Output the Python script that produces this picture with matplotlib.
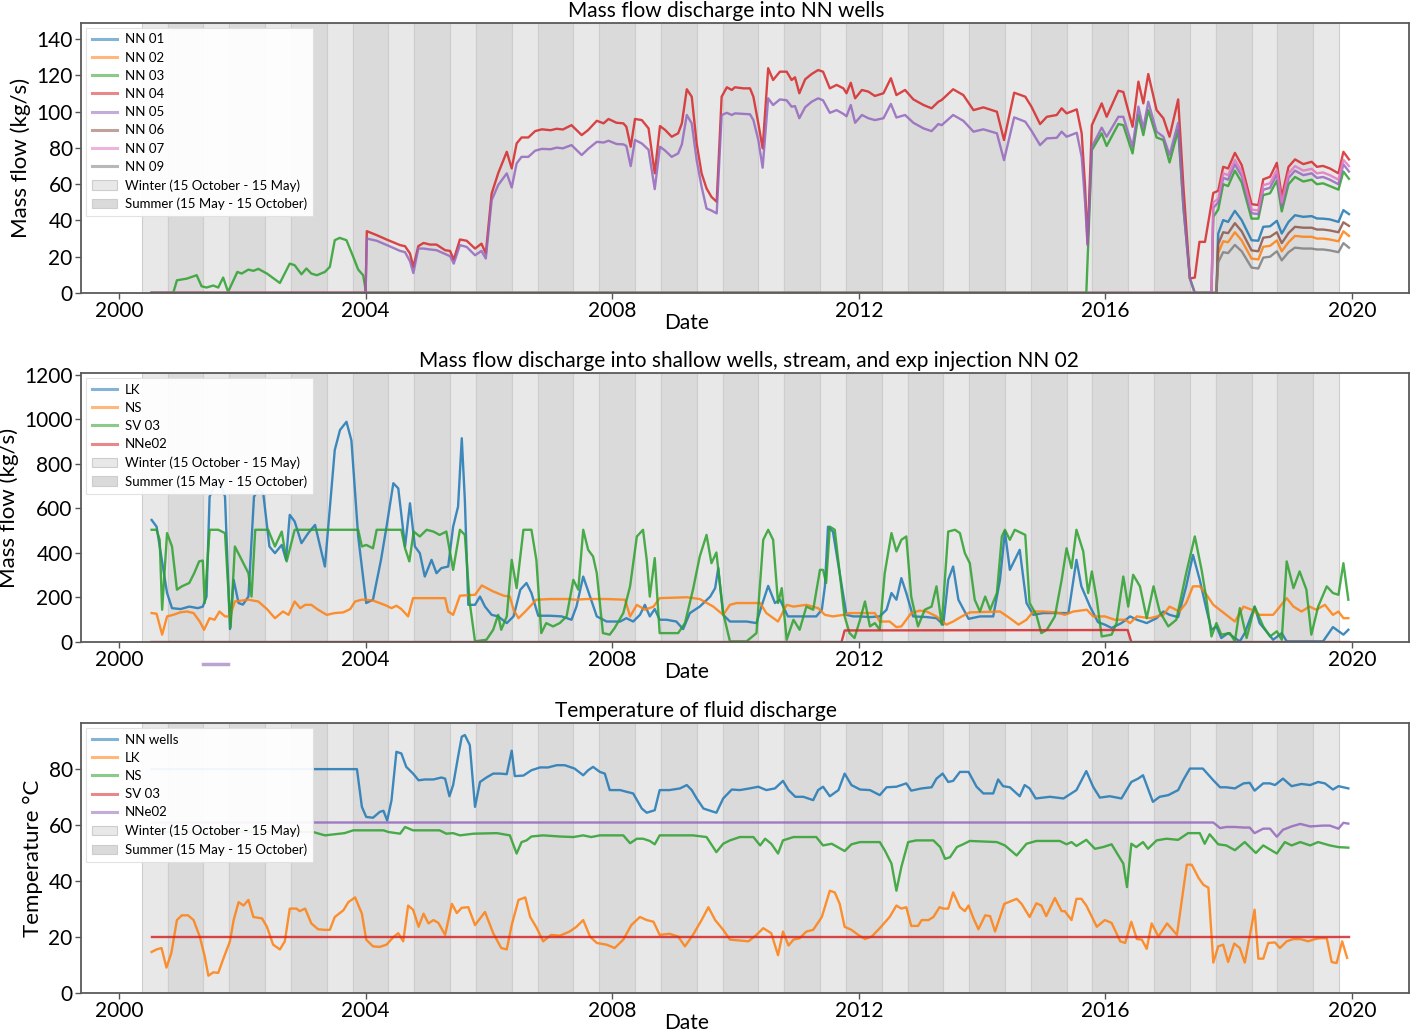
import numpy as np
import matplotlib.pyplot as plt
from matplotlib.lines import Line2D

plt.rcParams['font.family'] = ['Lato', 'DejaVu Sans']

# ------------------------------------------------------------------
# Dados (datas em anos decimais)
# ------------------------------------------------------------------

# --- Painel 1: vazao nos pocos NN (kg/s) ---
# trecho final comum (fim de 2017 ate fim de 2019)
x_final = [2017.83, 2017.91, 2017.99, 2018.10, 2018.21, 2018.37, 2018.48, 2018.56,
           2018.67, 2018.78, 2018.86, 2018.97, 2019.075, 2019.21, 2019.345, 2019.43,
           2019.53, 2019.64, 2019.78, 2019.86, 2019.95]

nn04_x = [2000.53, 2004.0, 2004.02, 2004.18, 2004.34, 2004.56, 2004.64, 2004.72, 2004.775,
          2004.855, 2004.94, 2005.045, 2005.15, 2005.29, 2005.37, 2005.43, 2005.53, 2005.64,
          2005.775, 2005.88, 2005.95, 2006.045, 2006.15, 2006.29, 2006.37, 2006.45, 2006.53,
          2006.64, 2006.75, 2006.86, 2007.0, 2007.1, 2007.2, 2007.34, 2007.505, 2007.61,
          2007.75, 2007.86, 2007.94, 2008.07, 2008.18, 2008.23, 2008.30, 2008.37, 2008.48,
          2008.59, 2008.69, 2008.775, 2008.86, 2008.965, 2009.07, 2009.13, 2009.21, 2009.29,
          2009.37, 2009.45, 2009.53, 2009.61, 2009.695, 2009.775, 2009.86, 2009.94, 2009.99,
          2010.13, 2010.235, 2010.29, 2010.37, 2010.44, 2010.53, 2010.61, 2010.72, 2010.83,
          2010.91, 2010.965, 2011.035, 2011.13, 2011.235, 2011.34, 2011.42, 2011.53, 2011.64,
          2011.75, 2011.80, 2011.87, 2011.94, 2012.05, 2012.155, 2012.26, 2012.40, 2012.52,
          2012.61, 2012.75, 2012.885, 2013.05, 2013.18, 2013.29, 2013.345, 2013.53, 2013.695,
          2013.86, 2014.02, 2014.24, 2014.355, 2014.52, 2014.70, 2014.80, 2014.94, 2015.05,
          2015.21, 2015.29, 2015.37, 2015.535, 2015.615, 2015.67, 2015.71, 2015.78, 2015.94,
          2016.02, 2016.21, 2016.29, 2016.44, 2016.535, 2016.615, 2016.695, 2016.83, 2016.94,
          2017.04, 2017.18, 2017.265, 2017.37, 2017.45, 2017.525, 2017.615, 2017.75] + x_final
nn04_y = [0, 0, 34.1, 31.9, 29.5, 26.4, 25.8, 21.8, 14.4,
          25.8, 27.6, 26.7, 26.7, 23.6, 23.2, 18.4, 29.5, 28.8,
          24.5, 27.2, 21.8, 54.9, 66.0, 77.9, 68.7, 82.5, 85.8,
          85.8, 89.3, 90.3, 89.8, 90.6, 90.2, 92.6, 87.1, 89.9,
          95.0, 93.6, 96.0, 93.9, 93.6, 91.7, 80.7, 96.0, 95.4,
          90.8, 66.0, 92.1, 89.9, 86.2, 88.1, 93.6, 112.4, 108.3,
          82.5, 66.0, 57.7, 53.0, 50.3, 108.3, 113.5, 112.0, 113.5,
          112.9, 112.9, 108.3, 93.6, 79.8, 124.0, 117.5, 122.1, 122.1,
          117.5, 119.0, 110.2, 117.9, 120.8, 123.0, 122.1, 112.9, 114.8,
          112.9, 110.2, 116.0, 107.4, 112.0, 111.1, 108.7, 110.2, 118.5,
          109.2, 112.0, 106.8, 103.7, 101.9, 105.5, 106.5, 112.4, 109.2,
          100.9, 102.4, 100.0, 84.4, 110.5, 108.3, 102.8, 93.2, 97.2,
          98.2, 101.9, 99.1, 101.3, 88.1, 58.6, 27.3, 92.6, 104.6,
          97.2, 111.6, 110.9, 91.7, 116.6, 104.6, 120.8, 100.9, 96.4,
          86.2, 106.8, 58.6, 8.0, 8.5, 28.2, 28.2, 55.2,
          56.4, 69.6, 68.7, 77.3, 70.6, 49.0, 48.5, 62.7, 64.1, 71.8, 53.0,
          69.6, 73.7, 71.1, 72.4, 69.6, 70.1, 68.7, 66.0, 77.9, 73.7]

nn05_x = [2000.53, 2004.0, 2004.02, 2004.18, 2004.34, 2004.56, 2004.64, 2004.72, 2004.775,
          2004.855, 2004.94, 2005.045, 2005.15, 2005.29, 2005.37, 2005.43, 2005.53, 2005.64,
          2005.775, 2005.88, 2005.95, 2006.045, 2006.15, 2006.29, 2006.37, 2006.45, 2006.53,
          2006.64, 2006.75, 2006.86, 2007.0, 2007.1, 2007.2, 2007.34, 2007.505, 2007.61,
          2007.75, 2007.86, 2007.94, 2008.07, 2008.18, 2008.23, 2008.30, 2008.37, 2008.48,
          2008.59, 2008.69, 2008.775, 2008.86, 2008.965, 2009.07, 2009.13, 2009.21, 2009.29,
          2009.37, 2009.45, 2009.53, 2009.61, 2009.695, 2009.775, 2009.86, 2009.94, 2009.99,
          2010.13, 2010.235, 2010.29, 2010.37, 2010.44, 2010.53, 2010.61, 2010.72, 2010.83,
          2010.91, 2010.965, 2011.035, 2011.13, 2011.235, 2011.34, 2011.42, 2011.53, 2011.64,
          2011.75, 2011.80, 2011.87, 2011.94, 2012.05, 2012.155, 2012.26, 2012.40, 2012.52,
          2012.61, 2012.75, 2012.885, 2013.05, 2013.18, 2013.29, 2013.345, 2013.53, 2013.695,
          2013.86, 2014.02, 2014.24, 2014.355, 2014.52, 2014.70, 2014.80, 2014.94, 2015.05,
          2015.21, 2015.29, 2015.37, 2015.535, 2015.615, 2015.67, 2015.71, 2015.78, 2015.94,
          2016.02, 2016.21, 2016.29, 2016.44, 2016.535, 2016.615, 2016.695, 2016.83, 2016.94,
          2017.04, 2017.18, 2017.265, 2017.37, 2017.45, 2017.72, 2017.75] + x_final
nn05_y = [0, 0, 30.0, 28.8, 26.5, 23.2, 22.5, 17.5, 11.0,
          24.5, 24.5, 24.0, 23.6, 21.5, 20.3, 16.2, 26.4, 25.4,
          20.8, 23.2, 19.0, 51.2, 59.5, 66.0, 58.2, 71.5, 75.1,
          75.1, 78.5, 79.5, 79.3, 80.2, 79.8, 81.6, 76.1, 79.5,
          83.4, 83.0, 84.0, 82.2, 82.0, 81.1, 70.0, 84.4, 82.5,
          79.0, 57.3, 80.7, 78.5, 75.1, 77.0, 82.0, 98.2, 93.6,
          73.3, 58.6, 46.6, 45.5, 43.9, 98.2, 99.4, 98.2, 99.1,
          98.8, 98.6, 95.4, 84.4, 69.1, 107.4, 103.7, 106.8, 106.3,
          102.8, 103.1, 96.4, 102.5, 105.5, 107.4, 106.3, 99.4, 100.9,
          98.8, 97.5, 103.7, 93.9, 98.2, 96.4, 95.4, 96.4, 104.3,
          96.8, 98.2, 93.9, 90.8, 89.3, 93.2, 92.6, 98.2, 95.0,
          89.0, 90.3, 88.1, 73.3, 96.9, 94.5, 89.5, 81.6, 85.3,
          85.6, 89.0, 86.2, 88.4, 75.1, 50.0, 26.4, 80.7, 91.2,
          86.2, 97.2, 97.2, 80.7, 102.8, 90.8, 105.5, 89.0, 86.2,
          76.1, 93.9, 47.5, 8.0, 0, 0, 47.0,
          50, 63.5, 62.5, 71, 64.5, 44, 43.5, 57, 58, 65.5, 48,
          63.5, 67.5, 65, 66, 63.5, 64, 62.5, 60, 71, 67]

nn03_x = [2000.53, 2000.88, 2000.94, 2001.10, 2001.26, 2001.34, 2001.42, 2001.53, 2001.61,
          2001.69, 2001.77, 2001.92, 2001.99, 2002.10, 2002.18, 2002.26, 2002.40, 2002.61,
          2002.77, 2002.85, 2002.96, 2003.04, 2003.12, 2003.21, 2003.34, 2003.42, 2003.50,
          2003.58, 2003.69, 2003.80, 2003.88, 2003.96, 2004.01, 2015.69, 2015.78, 2015.94,
          2016.02, 2016.21, 2016.29, 2016.44, 2016.535, 2016.615, 2016.695, 2016.83, 2016.94,
          2017.04, 2017.18, 2017.265, 2017.37, 2017.45, 2017.72, 2017.75] + x_final
nn03_y = [0, 0, 7.0, 7.9, 9.8, 3.7, 3.0, 4.1, 3.0,
          8.5, 0.6, 11.6, 10.7, 12.9, 12.2, 13.3, 10.7, 5.5,
          16.2, 15.3, 10.3, 13.5, 10.7, 9.8, 11.6, 14.4, 29.1,
          30.4, 29.1, 19.9, 12.9, 9.8, 0, 0, 78.8, 88.1,
          81.1, 93.2, 92.6, 77.0, 98.2, 87.1, 100.9, 85.8, 84.4,
          72.0, 89.9, 47.5, 8.0, 0, 0, 42.0,
          46, 60, 59, 67.5, 61, 41, 41, 54, 55, 62, 45,
          60, 64, 61.5, 62.5, 60, 60.5, 59, 57, 67, 63]

nn07_x = [2000.53, 2017.72, 2017.75] + x_final
nn07_y = [0, 0, 50.0,
          52, 66, 65, 73.5, 67, 46, 45.5, 59.5, 60.5, 68, 50,
          66, 70, 67.5, 68.5, 66, 66.5, 65, 62.5, 73.5, 70]

# pocos que so aparecem no fim (zero antes)
inicio_zero_x = [2000.53, 2017.80]
nn01_y = [0, 0, 32.8, 40.2, 39.2, 45.3, 40.2, 29.1, 28.8, 36.5, 36.8, 39.8, 32.8,
          39.2, 42.9, 42.0, 42.4, 41.1, 41.0, 40.6, 39.2, 45.7, 43.5]
nn02_y = [0, 0, 22, 28.5, 28, 33.5, 29, 19, 18.5, 25.5, 26, 29, 23,
          28, 31.5, 31, 31, 30, 30, 29.5, 28.5, 34, 31.5]
nn06_y = [0, 0, 27, 33.5, 33, 38.5, 34, 23.5, 23, 30.5, 31, 33.5, 27.5,
          33, 36.5, 36, 36, 35, 35, 34.5, 33.5, 39, 37]
nn09_y = [0, 0, 17, 22.5, 22, 26.5, 23, 14, 13.5, 19.5, 20, 23, 18,
          22.5, 25, 24.5, 24.5, 24, 24, 23.5, 22.5, 27.5, 25]

nomes_nn = ['NN 01', 'NN 02', 'NN 03', 'NN 04', 'NN 05', 'NN 06', 'NN 07', 'NN 09']

# --- Painel 2: pocos rasos, riacho e injecao (kg/s) ---
lk_x = [2000.53, 2000.61, 2000.78, 2000.86, 2001.00, 2001.14, 2001.28, 2001.36, 2001.42,
        2001.47, 2001.55, 2001.66, 2001.72, 2001.80, 2001.86, 2001.94, 2002.01, 2002.10,
        2002.19, 2002.26, 2002.34, 2002.44, 2002.53, 2002.64, 2002.71, 2002.77, 2002.85,
        2002.96, 2003.07, 2003.18, 2003.34, 2003.50, 2003.585, 2003.69, 2003.77, 2003.88,
        2004.01, 2004.12, 2004.25, 2004.34, 2004.45, 2004.53, 2004.64, 2004.72, 2004.80,
        2004.88, 2004.96, 2005.07, 2005.15, 2005.23, 2005.34, 2005.42, 2005.50, 2005.56,
        2005.61, 2005.666, 2005.775, 2005.856, 2005.937, 2006.045, 2006.15, 2006.29, 2006.40,
        2006.51, 2006.61, 2006.69, 2006.80, 2006.99, 2007.18, 2007.34, 2007.42, 2007.53,
        2007.64, 2007.75, 2007.91, 2008.13, 2008.23, 2008.34, 2008.45, 2008.53, 2008.61,
        2008.69, 2008.77, 2008.88, 2009.04, 2009.15, 2009.26, 2009.42, 2009.59, 2009.67,
        2009.72, 2009.80, 2009.91, 2010.18, 2010.34, 2010.42, 2010.53, 2010.64, 2010.72,
        2010.85, 2010.99, 2011.15, 2011.31, 2011.40, 2011.45, 2011.50, 2011.58, 2011.69,
        2011.80, 2011.91, 2012.02, 2012.18, 2012.34, 2012.45, 2012.53, 2012.61, 2012.69,
        2012.77, 2012.88, 2013.10, 2013.26, 2013.37, 2013.45, 2013.53, 2013.615, 2013.78,
        2013.965, 2014.18, 2014.29, 2014.37, 2014.45, 2014.61, 2014.72, 2014.83, 2014.99,
        2015.21, 2015.40, 2015.53, 2015.61, 2015.75, 2015.88, 2015.99, 2016.10, 2016.26,
        2016.40, 2016.51, 2016.67, 2016.83, 2016.94, 2017.04, 2017.18, 2017.31, 2017.42,
        2017.53, 2017.64, 2017.72, 2017.80, 2017.88, 2017.99, 2018.10, 2018.18, 2018.26,
        2018.42, 2018.50, 2018.61, 2018.72, 2018.86, 2018.94, 2019.53, 2019.69, 2019.86,
        2019.94]
lk_y = [548, 518, 220, 152, 148, 159, 152, 159, 204,
        653, 698, 698, 653, 58, 279, 175, 168, 204,
        653, 683, 668, 429, 399, 436, 369, 571, 541,
        444, 489, 526, 339, 862, 952, 989, 905, 474,
        175, 190, 369, 518, 713, 690, 429, 623, 429,
        399, 294, 369, 309, 332, 339, 518, 608, 915,
        638, 167, 167, 204, 159, 122, 115, 85, 115,
        235, 265, 220, 118, 118, 115, 100, 159, 294,
        204, 115, 92, 92, 107, 92, 122, 167, 115,
        148, 100, 100, 92, 58, 130, 159, 204, 242,
        332, 122, 92, 92, 85, 159, 252, 175, 190,
        115, 115, 115, 115, 145, 250, 518, 496, 309,
        122, 115, 115, 112, 115, 145, 220, 190, 287,
        220, 115, 112, 107, 78, 279, 339, 190, 104,
        115, 115, 279, 496, 324, 414, 175, 122, 130,
        130, 130, 369, 250, 159, 89, 78, 63, 85,
        115, 100, 85, 107, 137, 122, 112, 250, 391,
        279, 145, 55, 70, 18, 40, 18, 3, 40,
        159, 85, 48, 10, 40, 3, 3, 67, 33,
        55]

ns_x = [2000.53, 2000.61, 2000.70, 2000.78, 2000.88, 2000.99, 2001.10, 2001.21, 2001.31,
        2001.38, 2001.47, 2001.55, 2001.63, 2001.72, 2001.80, 2001.88, 2001.99, 2002.10,
        2002.26, 2002.40, 2002.53, 2002.66, 2002.75, 2002.85, 2002.94, 2003.02, 2003.12,
        2003.23, 2003.37, 2003.50, 2003.64, 2003.75, 2003.83, 2003.94, 2004.01, 2004.12,
        2004.23, 2004.34, 2004.42, 2004.50, 2004.58, 2004.69, 2004.77, 2005.29, 2005.34,
        2005.42, 2005.53, 2005.775, 2005.885, 2006.07, 2006.24, 2006.34, 2006.40, 2006.48,
        2006.59, 2006.77, 2006.99, 2007.31, 2007.40, 2007.59, 2007.91, 2008.21, 2008.29,
        2008.40, 2008.53, 2008.67, 2008.77, 2009.21, 2009.42, 2009.64, 2009.80, 2009.91,
        2010.02, 2010.40, 2010.50, 2010.69, 2010.83, 2010.94, 2011.15, 2011.34, 2011.45,
        2011.58, 2011.75, 2011.85, 2012.26, 2012.34, 2012.50, 2012.61, 2012.69, 2012.85,
        2012.99, 2013.10, 2013.26, 2013.42, 2013.53, 2013.67, 2013.80, 2014.29, 2014.45,
        2014.59, 2014.72, 2014.83, 2014.99, 2015.21, 2015.34, 2015.48, 2015.59, 2015.70,
        2015.80, 2015.99, 2016.15, 2016.32, 2016.40, 2016.51, 2016.72, 2016.94, 2017.04,
        2017.20, 2017.31, 2017.42, 2017.53, 2017.64, 2017.75, 2017.91, 2018.10, 2018.24,
        2018.37, 2018.50, 2018.72, 2018.83, 2018.94, 2019.05, 2019.18, 2019.31, 2019.42,
        2019.56, 2019.69, 2019.78, 2019.86, 2019.94]
ns_y = [130, 127, 33, 115, 122, 133, 137, 130, 92,
        55, 107, 100, 137, 115, 115, 182, 186, 190,
        182, 148, 107, 137, 122, 182, 152, 167, 167,
        145, 122, 130, 133, 148, 182, 190, 190, 186,
        175, 163, 152, 163, 148, 115, 197, 197, 137,
        122, 208, 212, 254, 227, 208, 204, 145, 107,
        137, 190, 193, 193, 190, 193, 193, 190, 115,
        167, 145, 159, 197, 201, 193, 159, 122, 167,
        175, 175, 130, 92, 167, 159, 167, 152, 122,
        115, 122, 130, 130, 92, 92, 67, 70, 130,
        141, 137, 115, 78, 92, 115, 133, 137, 107,
        78, 100, 137, 137, 133, 122, 137, 141, 145,
        115, 115, 100, 100, 85, 115, 107, 122, 159,
        137, 175, 250, 250, 212, 167, 133, 92, 159,
        145, 122, 122, 159, 197, 159, 137, 159, 145,
        167, 122, 137, 107, 107]

sv03_x = [2000.53, 2000.61, 2000.66, 2000.70, 2000.78, 2000.86, 2000.94, 2001.02, 2001.14,
          2001.22, 2001.30, 2001.36, 2001.39, 2001.47, 2001.61, 2001.72, 2001.81, 2001.88,
          2001.99, 2002.10, 2002.15, 2002.21, 2002.42, 2002.53, 2002.64, 2002.72, 2002.85,
          2003.88, 2003.94, 2004.01, 2004.12, 2004.18, 2004.58, 2004.64, 2004.71, 2004.78,
          2004.88, 2004.99, 2005.10, 2005.20, 2005.31, 2005.42, 2005.53, 2005.61, 2005.69,
          2005.775, 2005.96, 2006.07, 2006.15, 2006.20, 2006.29, 2006.37, 2006.45, 2006.56,
          2006.69, 2006.77, 2006.85, 2006.93, 2007.04, 2007.15, 2007.26, 2007.37, 2007.45,
          2007.53, 2007.61, 2007.69, 2007.75, 2007.85, 2007.96, 2008.04, 2008.18, 2008.29,
          2008.40, 2008.50, 2008.56, 2008.61, 2008.69, 2008.77, 2009.07, 2009.18, 2009.31,
          2009.42, 2009.53, 2009.61, 2009.69, 2009.80, 2009.91, 2010.18, 2010.34, 2010.45,
          2010.53, 2010.61, 2010.69, 2010.75, 2010.83, 2010.94, 2011.04, 2011.15, 2011.26,
          2011.37, 2011.42, 2011.47, 2011.53, 2011.61, 2011.69, 2011.77, 2011.85, 2011.93,
          2012.02, 2012.10, 2012.18, 2012.26, 2012.34, 2012.42, 2012.53, 2012.61, 2012.69,
          2012.77, 2012.85, 2012.96, 2013.07, 2013.18, 2013.26, 2013.345, 2013.45, 2013.56,
          2013.64, 2013.72, 2013.80, 2013.88, 2013.965, 2014.05, 2014.13, 2014.24, 2014.32,
          2014.37, 2014.45, 2014.53, 2014.70, 2014.77, 2014.88, 2014.96, 2015.05, 2015.18,
          2015.29, 2015.37, 2015.45, 2015.53, 2015.64, 2015.72, 2015.78, 2015.86, 2015.94,
          2016.10, 2016.18, 2016.29, 2016.37, 2016.45, 2016.56, 2016.67, 2016.78, 2016.88,
          2017.02, 2017.15, 2017.31, 2017.45, 2017.56, 2017.64, 2017.72, 2017.80, 2017.88,
          2018.02, 2018.10, 2018.18, 2018.29, 2018.42, 2018.56, 2018.67, 2018.78, 2018.86,
          2018.94, 2019.05, 2019.15, 2019.26, 2019.34, 2019.45, 2019.59, 2019.69, 2019.78,
          2019.86, 2019.94]
sv03_y = [504, 504, 459, 145, 489, 429, 235, 250, 265,
          309, 362, 366, 175, 504, 504, 489, 65, 429,
          369, 309, 204, 504, 504, 429, 496, 362, 504,
          504, 429, 436, 421, 504, 504, 421, 362, 496,
          474, 504, 496, 481, 496, 324, 504, 481, 175,
          3, 10, 55, 122, 55, 115, 369, 242, 504,
          504, 369, 40, 85, 70, 85, 115, 279, 235,
          504, 414, 384, 309, 40, 33, 63, 130, 250,
          474, 504, 369, 204, 377, 40, 40, 85, 235,
          384, 481, 354, 402, 130, 3, 3, 40, 459,
          504, 459, 175, 242, 10, 100, 55, 159, 145,
          324, 324, 265, 518, 504, 309, 115, 40, 18,
          100, 182, 70, 85, 55, 309, 489, 407, 459,
          474, 204, 70, 145, 159, 250, 78, 496, 504,
          489, 399, 354, 190, 137, 204, 145, 220, 474,
          504, 459, 504, 481, 175, 122, 40, 55, 115,
          279, 421, 332, 504, 407, 220, 317, 190, 25,
          33, 85, 294, 159, 302, 250, 107, 250, 137,
          70, 100, 309, 474, 324, 190, 25, 85, 33,
          40, 3, 152, 18, 159, 70, 25, 48, 10,
          362, 242, 317, 235, 33, 159, 250, 220, 212,
          354, 190]

nne02_x = [2000.53, 2011.72, 2011.77, 2016.36, 2016.42, 2019.95]
nne02_y = [0, 0, 52, 54, 0, 0]

nomes_rasos = ['LK', 'NS', 'SV 03', 'NNe02']

# --- Painel 3: temperatura (graus C) ---
t_nn_x = [2000.53, 2003.86, 2003.94, 2004.01, 2004.12, 2004.23, 2004.29, 2004.35, 2004.42,
          2004.50, 2004.58, 2004.66, 2004.77, 2004.86, 2004.96, 2005.10, 2005.23, 2005.29,
          2005.36, 2005.42, 2005.50, 2005.56, 2005.61, 2005.69, 2005.775, 2005.856, 2005.96,
          2006.07, 2006.18, 2006.29, 2006.37, 2006.42, 2006.56, 2006.69, 2006.83, 2006.96,
          2007.10, 2007.23, 2007.39, 2007.53, 2007.61, 2007.69, 2007.80, 2007.88, 2007.96,
          2008.13, 2008.23, 2008.34, 2008.48, 2008.56, 2008.69, 2008.77, 2008.93, 2009.10,
          2009.21, 2009.29, 2009.37, 2009.48, 2009.59, 2009.69, 2009.80, 2009.94, 2010.07,
          2010.23, 2010.37, 2010.50, 2010.64, 2010.77, 2010.86, 2010.97, 2011.10, 2011.26,
          2011.34, 2011.42, 2011.53, 2011.67, 2011.77, 2011.88, 2012.02, 2012.18, 2012.34,
          2012.45, 2012.61, 2012.77, 2012.85, 2013.02, 2013.18, 2013.26, 2013.36, 2013.45,
          2013.53, 2013.64, 2013.78, 2013.91, 2014.02, 2014.18, 2014.26, 2014.34, 2014.45,
          2014.61, 2014.69, 2014.77, 2014.87, 2015.10, 2015.32, 2015.53, 2015.69, 2015.80,
          2015.91, 2016.07, 2016.26, 2016.42, 2016.53, 2016.61, 2016.77, 2016.88, 2017.02,
          2017.18, 2017.26, 2017.37, 2017.58, 2017.75, 2017.86, 2017.96, 2018.10, 2018.24,
          2018.34, 2018.42, 2018.56, 2018.67, 2018.75, 2018.88, 2019.02, 2019.18, 2019.32,
          2019.45, 2019.56, 2019.69, 2019.78, 2019.94]
t_nn_y = [80.1, 80.1, 66.6, 63.0, 62.7, 64.8, 65.2, 61.7, 68.9,
          86.3, 85.7, 80.9, 78.5, 76.1, 76.4, 76.4, 77.1, 76.7,
          70.4, 74.4, 84.5, 91.7, 92.3, 88.7, 66.6, 75.5, 77.1,
          78.5, 78.5, 78.3, 86.7, 77.6, 77.8, 79.7, 80.7, 80.7,
          81.5, 81.5, 80.3, 77.9, 79.7, 80.9, 79.1, 78.5, 72.6,
          72.6, 72.0, 71.4, 66.0, 64.5, 65.4, 72.6, 72.6, 73.2,
          74.4, 72.6, 69.6, 66.0, 65.2, 64.5, 69.6, 72.8, 72.6,
          73.2, 73.8, 72.6, 73.2, 75.9, 72.6, 70.2, 70.2, 69.0,
          72.6, 73.8, 70.4, 72.6, 78.5, 74.4, 72.8, 72.6, 70.8,
          73.6, 73.8, 75.0, 72.4, 73.2, 73.6, 76.7, 78.5, 75.5,
          75.9, 79.1, 79.1, 73.8, 71.4, 71.4, 76.4, 74.0, 73.6,
          70.4, 74.4, 73.2, 69.6, 70.2, 69.6, 72.6, 79.4, 73.8,
          69.9, 70.4, 69.6, 75.5, 76.7, 77.9, 68.4, 70.2, 70.8,
          72.6, 76.1, 80.3, 80.3, 76.1, 73.6, 73.6, 73.2, 75.0,
          75.2, 72.4, 75.0, 75.0, 74.4, 76.7, 74.0, 74.8, 74.4,
          75.5, 75.0, 72.8, 74.0, 73.2]

t_lk_x = [2000.53, 2000.61, 2000.69, 2000.77, 2000.85, 2000.94, 2001.02, 2001.12, 2001.21,
          2001.31, 2001.39, 2001.45, 2001.53, 2001.61, 2001.69, 2001.80, 2001.86, 2001.94,
          2002.02, 2002.10, 2002.18, 2002.32, 2002.40, 2002.50, 2002.61, 2002.69, 2002.77,
          2002.88, 2002.93, 2003.02, 2003.12, 2003.23, 2003.34, 2003.42, 2003.50, 2003.64,
          2003.72, 2003.83, 2003.94, 2004.01, 2004.12, 2004.23, 2004.34, 2004.45, 2004.53,
          2004.61, 2004.69, 2004.77, 2004.86, 2004.94, 2005.02, 2005.10, 2005.18, 2005.29,
          2005.40, 2005.48, 2005.56, 2005.666, 2005.775, 2005.937, 2006.07, 2006.20, 2006.29,
          2006.37, 2006.48, 2006.59, 2006.67, 2006.77, 2006.88, 2007.01, 2007.15, 2007.31,
          2007.42, 2007.53, 2007.64, 2007.75, 2007.91, 2008.04, 2008.18, 2008.31, 2008.45,
          2008.56, 2008.67, 2008.77, 2008.93, 2009.07, 2009.18, 2009.31, 2009.45, 2009.56,
          2009.67, 2009.80, 2009.91, 2010.07, 2010.21, 2010.34, 2010.45, 2010.58, 2010.69,
          2010.77, 2010.86, 2010.94, 2011.04, 2011.15, 2011.26, 2011.40, 2011.53, 2011.61,
          2011.69, 2011.77, 2011.88, 2011.99, 2012.10, 2012.21, 2012.34, 2012.50, 2012.61,
          2012.69, 2012.77, 2012.85, 2012.96, 2013.02, 2013.13, 2013.21, 2013.31, 2013.37,
          2013.45, 2013.53, 2013.64, 2013.72, 2013.78, 2013.86, 2013.94, 2014.05, 2014.13,
          2014.21, 2014.36, 2014.56, 2014.64, 2014.77, 2014.88, 2014.96, 2015.04, 2015.18,
          2015.29, 2015.34, 2015.45, 2015.53, 2015.61, 2015.69, 2015.86, 2015.99, 2016.10,
          2016.24, 2016.32, 2016.42, 2016.51, 2016.59, 2016.67, 2016.75, 2016.86, 2017.00,
          2017.16, 2017.32, 2017.40, 2017.51, 2017.59, 2017.67, 2017.75, 2017.83, 2017.91,
          2017.99, 2018.09, 2018.18, 2018.26, 2018.42, 2018.48, 2018.56, 2018.64, 2018.75,
          2018.83, 2018.94, 2019.05, 2019.16, 2019.29, 2019.40, 2019.48, 2019.59, 2019.67,
          2019.75, 2019.84, 2019.92]
t_lk_y = [14.7, 15.6, 16.1, 9.1, 14.4, 26.1, 27.8, 27.8, 26.1,
          20.2, 13.2, 6.2, 7.4, 7.2, 12.1, 18.5, 26.1, 32.5,
          31.3, 33.3, 27.2, 26.7, 23.7, 17.3, 15.6, 18.5, 30.2,
          30.2, 29.3, 30.2, 24.9, 22.8, 22.6, 22.6, 27.2, 29.6,
          32.5, 34.2, 28.4, 19.1, 16.7, 16.5, 17.3, 20.0, 21.4,
          18.5, 31.3, 29.8, 23.7, 28.4, 24.9, 26.1, 25.1, 20.8,
          31.9, 28.6, 30.5, 30.7, 24.3, 29.0, 21.4, 16.1, 15.6,
          24.3, 33.3, 34.2, 27.2, 23.5, 18.5, 20.8, 20.5, 22.0,
          23.7, 26.1, 20.2, 17.9, 17.3, 16.1, 19.1, 24.3, 27.2,
          26.1, 25.5, 20.8, 21.2, 20.2, 16.7, 20.8, 26.1, 30.7,
          26.1, 22.6, 19.1, 18.8, 18.5, 20.8, 23.2, 21.4, 13.5,
          22.0, 17.0, 19.1, 19.6, 22.0, 22.6, 27.2, 36.6, 36.0,
          31.9, 23.7, 22.6, 20.8, 19.3, 20.2, 23.2, 27.2, 31.3,
          30.2, 30.7, 24.0, 24.0, 26.1, 26.1, 27.2, 30.7, 30.2,
          30.2, 36.0, 30.7, 29.3, 31.3, 26.7, 22.8, 27.8, 27.5,
          22.0, 31.9, 33.7, 31.9, 27.2, 32.1, 31.3, 27.5, 34.0,
          29.3, 29.3, 26.1, 33.7, 33.7, 31.3, 23.7, 26.1, 25.1,
          18.5, 17.9, 25.5, 19.3, 19.1, 15.8, 24.9, 20.2, 24.9,
          20.8, 45.9, 45.9, 41.2, 38.7, 37.7, 10.9, 16.7, 17.3,
          11.1, 17.7, 16.1, 10.9, 29.8, 12.3, 12.3, 17.9, 18.1,
          16.1, 18.5, 19.3, 19.3, 18.5, 19.3, 19.6, 19.6, 11.1,
          10.7, 18.5, 12.6]

t_ns_x = [2000.53, 2003.15, 2003.34, 2003.66, 2003.80, 2004.29, 2004.37, 2004.56, 2004.64,
          2004.77, 2005.20, 2005.31, 2005.42, 2005.53, 2005.75, 2006.13, 2006.34, 2006.45,
          2006.53, 2006.61, 2006.69, 2006.88, 2007.15, 2007.37, 2007.53, 2007.66, 2007.80,
          2008.18, 2008.29, 2008.40, 2008.50, 2008.61, 2008.69, 2008.77, 2009.31, 2009.53,
          2009.69, 2009.80, 2009.91, 2010.07, 2010.29, 2010.40, 2010.48, 2010.58, 2010.69,
          2010.77, 2010.94, 2011.31, 2011.42, 2011.56, 2011.77, 2011.88, 2012.02, 2012.34,
          2012.42, 2012.53, 2012.61, 2012.69, 2012.80, 2012.93, 2013.21, 2013.32, 2013.40,
          2013.48, 2013.59, 2013.69, 2013.80, 2014.24, 2014.37, 2014.56, 2014.72, 2014.88,
          2015.26, 2015.37, 2015.45, 2015.53, 2015.69, 2015.83, 2015.96, 2016.10, 2016.21,
          2016.29, 2016.35, 2016.42, 2016.50, 2016.61, 2016.69, 2016.83, 2016.99, 2017.18,
          2017.34, 2017.53, 2017.61, 2017.69, 2017.83, 2017.96, 2018.10, 2018.26, 2018.44,
          2018.56, 2018.78, 2018.91, 2019.02, 2019.16, 2019.32, 2019.45, 2019.64, 2019.78,
          2019.94]
t_ns_y = [57.6, 57.6, 56.4, 57.2, 58.2, 58.2, 57.6, 57.0, 59.4,
          58.2, 58.2, 57.0, 57.2, 56.4, 57.0, 57.2, 56.4, 49.9,
          54.0, 54.6, 56.0, 56.4, 56.0, 55.8, 56.4, 55.8, 56.4,
          56.4, 53.6, 55.2, 55.2, 54.4, 53.2, 56.4, 56.4, 55.8,
          50.4, 53.4, 54.6, 55.8, 55.8, 52.8, 55.2, 53.4, 49.9,
          54.6, 55.8, 55.8, 52.8, 53.4, 50.8, 53.2, 54.0, 54.0,
          51.1, 46.3, 36.6, 45.1, 54.0, 54.6, 54.6, 52.2, 48.0,
          48.6, 52.2, 53.2, 54.4, 54.0, 52.8, 49.2, 53.4, 54.4,
          54.4, 53.2, 54.0, 52.6, 54.8, 51.6, 52.2, 53.2, 49.2,
          46.3, 37.9, 53.4, 52.2, 54.0, 51.6, 54.6, 55.2, 54.8,
          57.2, 57.2, 53.4, 56.8, 53.2, 52.8, 51.1, 54.0, 50.1,
          52.8, 49.9, 54.0, 52.8, 54.0, 52.8, 54.0, 52.8, 52.2,
          52.0]

t_sv03_x = [2000.53, 2019.95]
t_sv03_y = [20, 20]

t_nne02_x = [2000.53, 2017.75, 2017.86, 2017.96, 2018.10, 2018.24, 2018.34, 2018.42, 2018.56,
             2018.67, 2018.78, 2018.88, 2019.02, 2019.16, 2019.32, 2019.53, 2019.64, 2019.78,
             2019.86, 2019.94]
t_nne02_y = [61.0, 61.0, 59.0, 59.4, 59.4, 59.2, 59.2, 57.2, 58.8,
             58.8, 55.9, 58.4, 59.6, 60.5, 59.6, 59.9, 59.9, 58.8,
             60.9, 60.6]

nomes_temp = ['NN wells', 'LK', 'NS', 'SV 03', 'NNe02']

# ------------------------------------------------------------------
# Estilo
# ------------------------------------------------------------------
cores = ['tab:blue', 'tab:orange', 'tab:green', 'tab:red',
         'tab:purple', 'tab:brown', 'tab:pink', 'tab:gray']
COR_CLARA = '#e8e8e8'
COR_ESCURA = '#dadada'
COR_BORDA = '#cdcdcd'
MAIO = 0.37      # 15 de maio
OUTUBRO = 0.79   # 15 de outubro


def faixas(ax):
    # faixas de estacao (clara maio-outubro, escura outubro-maio)
    for ano in range(2000, 2020):
        ax.axvspan(ano + MAIO, ano + OUTUBRO, facecolor=COR_CLARA, edgecolor=COR_BORDA,
                   lw=0.8, zorder=0,
                   label='Winter (15 October - 15 May)' if ano == 2000 else None)
        if ano < 2019:
            ax.axvspan(ano + OUTUBRO, ano + 1 + MAIO, facecolor=COR_ESCURA,
                       edgecolor=COR_BORDA, lw=0.8, zorder=0,
                       label='Summer (15 May - 15 October)' if ano == 2000 else None)


def formata(ax, titulo, tx, ylabel):
    ax.set_xlim(1999.384, 2020.925)
    ax.set_xticks([2000, 2004, 2008, 2012, 2016, 2020])
    ax.set_xticklabels(['2000', '2004', '2008', '2012', '2016', '2020'])
    ax.tick_params(labelsize=15, length=4, width=1, color='#555555', pad=2)
    ax.set_title(titulo, fontsize=15, x=tx, pad=4)
    ax.set_xlabel('Date', fontsize=15)
    ax.xaxis.set_label_coords(0.456, -0.075)
    ax.set_ylabel(ylabel, fontsize=16)
    for s in ax.spines.values():
        s.set_color('#5a5a5a')
        s.set_linewidth(1.3)
    # linhas primeiro, depois as faixas de estacao
    h, l = ax.get_legend_handles_labels()
    linhas = [(a, b) for a, b in zip(h, l) if isinstance(a, Line2D)]
    outros = [(a, b) for a, b in zip(h, l) if not isinstance(a, Line2D)]
    ordem = linhas + outros
    leg = ax.legend([a for a, b in ordem], [b for a, b in ordem],
                    loc='upper left', fontsize=9.5, framealpha=0.93, edgecolor='#e0e0e0',
                    fancybox=False, labelspacing=0.47, handlelength=1.9,
                    handletextpad=0.6, borderaxespad=0.35, borderpad=0.45)
    leg.get_frame().set_linewidth(0.8)
    for lh in leg.get_lines():
        lh.set_alpha(0.55)
        lh.set_linewidth(2.2)


fig = plt.figure(figsize=(14.16, 10.33), dpi=100)
ax1 = fig.add_axes([0.0572, 0.7164, 0.9379, 0.2614])
ax2 = fig.add_axes([0.0572, 0.3785, 0.9379, 0.2604])
ax3 = fig.add_axes([0.0572, 0.0387, 0.9379, 0.2614])

LW = 1.7
AL = 0.85

# Painel 1
faixas(ax1)
series1 = [
    (inicio_zero_x + x_final, nn01_y),
    (inicio_zero_x + x_final, nn02_y),
    (nn03_x, nn03_y),
    (nn04_x, nn04_y),
    (nn05_x, nn05_y),
    (inicio_zero_x + x_final, nn06_y),
    (nn07_x, nn07_y),
    (inicio_zero_x + x_final, nn09_y),
]
for (xs, ys), nome, cor in zip(series1, nomes_nn, cores):
    ax1.plot(xs, ys, color=cor, lw=LW, alpha=AL, label=nome)
ax1.set_ylim(0, 149)
ax1.set_yticks(np.arange(0, 141, 20))
formata(ax1, 'Mass flow discharge into NN wells', 0.486, 'Mass flow (kg/s)')

# Painel 2
faixas(ax2)
series2 = [(lk_x, lk_y), (ns_x, ns_y), (sv03_x, sv03_y), (nne02_x, nne02_y)]
for (xs, ys), nome, cor in zip(series2, nomes_rasos, cores):
    ax2.plot(xs, ys, color=cor, lw=LW, alpha=AL, label=nome)
ax2.set_ylim(0, 1208)
ax2.set_yticks(np.arange(0, 1201, 200))
formata(ax2, 'Mass flow discharge into shallow wells, stream, and exp injection NN 02',
        0.5026, 'Mass flow (kg/s)')

# Painel 3
faixas(ax3)
series3 = [(t_nn_x, t_nn_y), (t_lk_x, t_lk_y), (t_ns_x, t_ns_y),
           (t_sv03_x, t_sv03_y), (t_nne02_x, t_nne02_y)]
for (xs, ys), nome, cor in zip(series3, nomes_temp, cores):
    ax3.plot(xs, ys, color=cor, lw=LW, alpha=AL, label=nome)
ax3.set_ylim(0, 96.6)
ax3.set_yticks(np.arange(0, 81, 20))
formata(ax3, 'Temperature of fluid discharge', 0.463, 'Temperature °C')

# pequeno traco lilas sob o painel 2 (presente na figura original)
fig.add_artist(Line2D([203 / 1416, 228 / 1416], [1 - 664 / 1033, 1 - 664 / 1033],
                      color='#b9a3cf', lw=2.5))

fig.savefig('out.png', dpi=100)
